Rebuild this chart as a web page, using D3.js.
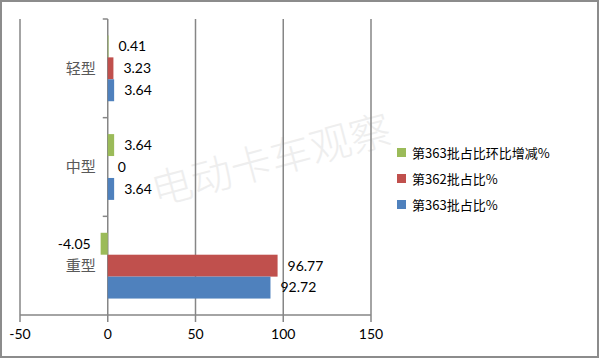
<!DOCTYPE html>
<html>
<head>
<meta charset="utf-8">
<script src="https://cdn.jsdelivr.net/npm/d3@7"></script>
<style>
  body { margin: 0; background: #fff; }
  svg { display: block; }
</style>
</head>
<body>
<script>
// categories top to bottom, series listed as in the legend
const categories = ["轻型", "中型", "重型"];
const seriesNames = ["第363批占比环比增减%", "第362批占比%", "第363批占比%"];
const changeVals = [0.41, 3.64, -4.05];
const prevVals = [3.23, 0, 96.77];
const currVals = [3.64, 3.64, 92.72];
const xTicks = [-50, 0, 50, 100, 150];
const colors = ["#9bbb59", "#c0504d", "#4f81bd"];

const W = 600, H = 360;
const margin = { top: 19, right: 229, bottom: 45, left: 20 };

const svg = d3.select("body").append("svg")
    .attr("width", W)
    .attr("height", H);

// outer frame
svg.append("rect")
    .attr("x", 1).attr("y", 1)
    .attr("width", W - 3).attr("height", H - 4)
    .attr("fill", "#fff")
    .attr("stroke", "#8c8c8c")
    .attr("stroke-width", 2);

const x = d3.scaleLinear().domain([-50, 150]).range([margin.left, W - margin.right]);
const y = d3.scaleBand().domain(categories).range([margin.top, H - margin.bottom]);
const inner = d3.scaleBand().domain(seriesNames).range([0, y.bandwidth()]).paddingOuter(0.75).paddingInner(0);

const numFont = "Lato, 'Open Sans', sans-serif";
const cjkFont = "'Noto Sans CJK SC', sans-serif";

// watermark
svg.append("text")
    .attr("transform", "translate(156,206) rotate(-15)")
    .attr("font-family", cjkFont)
    .attr("font-size", 41)
    .attr("font-weight", 300)
    .attr("fill", "#eeeeee")
    .text("电动卡车观察");

// vertical gridlines
svg.append("g")
    .selectAll("line")
    .data(xTicks)
    .join("line")
    .attr("x1", d => x(d)).attr("x2", d => x(d))
    .attr("y1", margin.top).attr("y2", H - margin.bottom + 7)
    .attr("stroke", "#868686")
    .attr("stroke-width", 1.5);

// bottom axis line
svg.append("line")
    .attr("x1", x(-50)).attr("x2", x(150))
    .attr("y1", H - margin.bottom).attr("y2", H - margin.bottom)
    .attr("stroke", "#868686")
    .attr("stroke-width", 1.5);

// category ticks on the zero axis
svg.append("g")
    .selectAll("line")
    .data([margin.top, y("中型"), y("重型")])
    .join("line")
    .attr("x1", x(0) - 5).attr("x2", x(0))
    .attr("y1", d => d).attr("y2", d => d)
    .attr("stroke", "#868686")
    .attr("stroke-width", 1.5);

// x tick labels
svg.append("g")
    .selectAll("text")
    .data(xTicks)
    .join("text")
    .attr("x", d => x(d))
    .attr("y", H - margin.bottom + 24)
    .attr("text-anchor", "middle")
    .attr("font-family", numFont)
    .attr("font-size", 14)
    .attr("fill", "#000")
    .text(d => d);

// category labels
svg.append("g")
    .selectAll("text")
    .data(categories)
    .join("text")
    .attr("x", x(0) - 12)
    .attr("y", d => y(d) + y.bandwidth() / 2)
    .attr("dy", "0.35em")
    .attr("text-anchor", "end")
    .attr("font-family", cjkFont)
    .attr("font-size", 15)
    .attr("fill", "#595959")
    .text(d => d);

const seriesVals = [changeVals, prevVals, currVals];
const rows = [];
seriesVals.forEach((vals, si) => {
    vals.forEach((v, ci) => rows.push({ s: seriesNames[si], si, c: categories[ci], v }));
});

// bars
svg.append("g")
    .selectAll("rect")
    .data(rows)
    .join("rect")
    .attr("x", d => x(Math.min(0, d.v)))
    .attr("y", d => y(d.c) + inner(d.s))
    .attr("width", d => Math.abs(x(d.v) - x(0)))
    .attr("height", inner.bandwidth())
    .attr("fill", d => colors[d.si]);

// data labels
svg.append("g")
    .selectAll("text")
    .data(rows)
    .join("text")
    .attr("x", d => d.v < 0 ? x(d.v) - 10 : x(d.v) + 10)
    .attr("y", d => y(d.c) + inner(d.s) + inner.bandwidth() / 2)
    .attr("dy", "0.35em")
    .attr("text-anchor", d => d.v < 0 ? "end" : "start")
    .attr("font-family", numFont)
    .attr("font-size", 14)
    .attr("fill", "#000")
    .text(d => d.v);

// legend
const legend = svg.append("g")
    .selectAll("g")
    .data(seriesNames)
    .join("g")
    .attr("transform", (d, i) => `translate(397,${153 + i * 26})`);

legend.append("rect")
    .attr("x", 0).attr("y", -5)
    .attr("width", 9).attr("height", 9)
    .attr("fill", (d, i) => colors[i]);

legend.append("text")
    .attr("x", 15)
    .attr("y", 0)
    .attr("dy", "0.35em")
    .attr("font-family", cjkFont)
    .attr("font-size", 13)
    .attr("fill", "#000")
    .text(d => d);
</script>
</body>
</html>
